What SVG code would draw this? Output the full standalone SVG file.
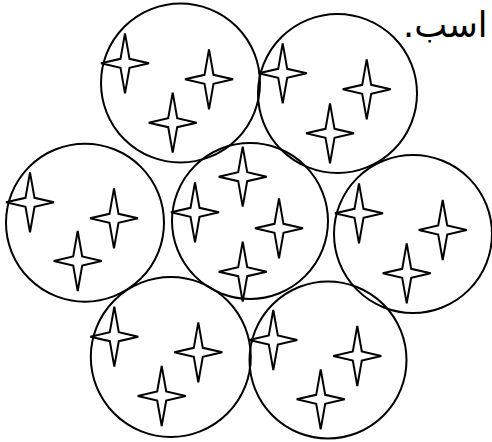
<svg xmlns="http://www.w3.org/2000/svg" width="492" height="442" viewBox="0 0 492 442">
<style>
.c{fill:none;stroke:#000;stroke-width:2}
.s{fill:none;stroke:#000;stroke-width:2;stroke-linejoin:miter}
.t{font-family:"DejaVu Sans",sans-serif;font-size:35px;fill:#000}
</style>
<defs>
<path id="star" d="M0,-30 L4.5,-4.5 L24,0 L4.5,4.5 L0,30 L-4.5,4.5 L-24,0 L-4.5,-4.5 Z"/>
</defs>
<g id="n1">
<circle class="c" cx="180.5" cy="83" r="79.5"/>
<use class="s" href="#star" x="125" y="63.3"/>
<use class="s" href="#star" x="209" y="79.3"/>
<use class="s" href="#star" x="172.7" y="122.7"/>
</g>
<g id="n2">
<circle class="c" cx="337.5" cy="93.5" r="79.5"/>
<use class="s" href="#star" x="282.7" y="73.3"/>
<use class="s" href="#star" x="366.7" y="89.3"/>
<use class="s" href="#star" x="330" y="133.3"/>
</g>
<g id="n3">
<circle class="c" cx="250" cy="221" r="78"/>
<use class="s" href="#star" x="242.7" y="176.7"/>
<use class="s" href="#star" x="195" y="212.3"/>
<use class="s" href="#star" x="279" y="228.3"/>
<use class="s" href="#star" x="242.7" y="271.7"/>
</g>
<g id="n4">
<circle class="c" cx="85" cy="222.7" r="79"/>
<use class="s" href="#star" x="30" y="202.3"/>
<use class="s" href="#star" x="114" y="218.3"/>
<use class="s" href="#star" x="77.7" y="261"/>
</g>
<g id="n5">
<circle class="c" cx="413" cy="234" r="79"/>
<use class="s" href="#star" x="359" y="213.3"/>
<use class="s" href="#star" x="442.7" y="230"/>
<use class="s" href="#star" x="406.7" y="273.3"/>
</g>
<g id="n6">
<circle class="c" cx="170.8" cy="357" r="80"/>
<use class="s" href="#star" x="114.3" y="336.7"/>
<use class="s" href="#star" x="198.3" y="352.3"/>
<use class="s" href="#star" x="161.7" y="396"/>
</g>
<g id="n7">
<circle class="c" cx="328" cy="360" r="78.5"/>
<use class="s" href="#star" x="273.3" y="340"/>
<use class="s" href="#star" x="357.3" y="356"/>
<use class="s" href="#star" x="320.7" y="399.3"/>
</g>
<g id="connectors"></g>
<text class="t" x="403" y="37" direction="rtl" text-anchor="end">اسب.</text>
</svg>
